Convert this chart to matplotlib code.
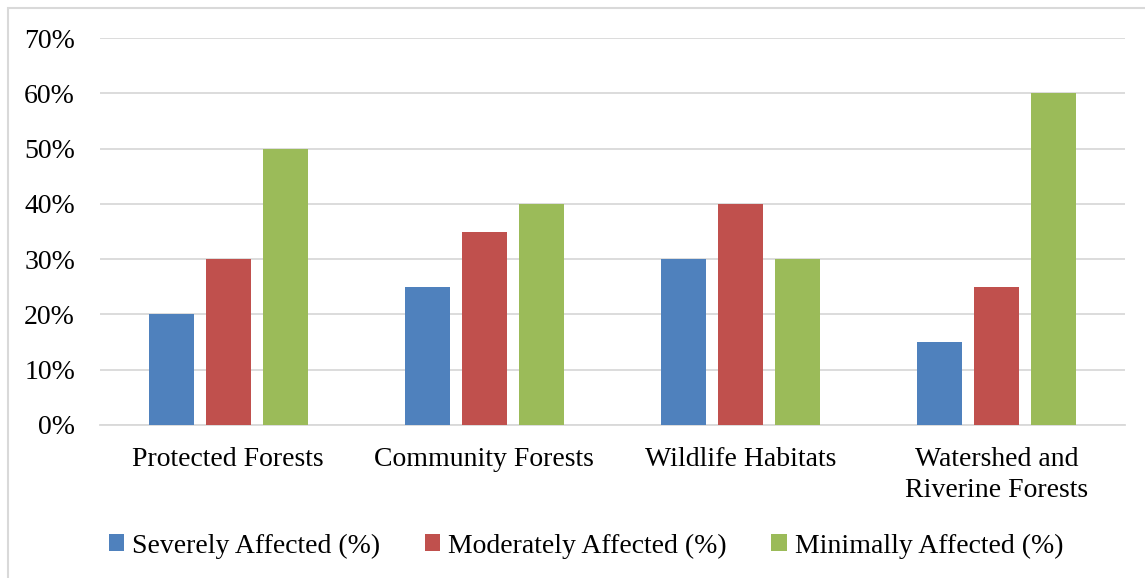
import matplotlib.pyplot as plt
import numpy as np
from matplotlib.patches import Rectangle

plt.rcParams['font.family'] = ['Liberation Serif', 'DejaVu Serif']

# Data
categories = ['Protected Forests', 'Community Forests', 'Wildlife Habitats',
              'Watershed and\nRiverine Forests']
severe = [20, 25, 30, 15]
moderate = [30, 35, 40, 25]
minimal = [50, 40, 30, 60]
series_names = ['Severely Affected (%)', 'Moderately Affected (%)', 'Minimally Affected (%)']
colors = ['#4f81bd', '#c0504d', '#9bbb59']

fig = plt.figure(figsize=(11.45, 5.78), dpi=100)
ax = fig.add_axes([100/1145, 1 - 425/578, 1025/1145, 387/578])

index = np.arange(len(categories))
bar_width = 45 / 256
step = 57 / 256
for i, (vals, name, c) in enumerate(zip([severe, moderate, minimal], series_names, colors)):
    ax.bar(index + (i - 1) * step, vals, bar_width, color=c, label=name, zorder=3)

ax.set_xlim(-0.5, len(categories) - 0.5)
ax.set_ylim(0, 70)
ax.set_yticks(range(0, 71, 10))
ax.set_yticklabels([f'{v}%' for v in range(0, 71, 10)])
ax.set_xticks(index)
ax.set_xticklabels(categories, linespacing=1.3)
ax.yaxis.grid(True, color='#d9d9d9', linewidth=1.3, zorder=0)
for s in ['top', 'right', 'left']:
    ax.spines[s].set_visible(False)
ax.spines['bottom'].set_color('#d9d9d9')
ax.spines['bottom'].set_linewidth(1.3)
ax.tick_params(axis='both', length=0, labelsize=20, colors='black')
ax.tick_params(axis='y', pad=18)
ax.tick_params(axis='x', pad=16)

ax.legend(loc='center', bbox_to_anchor=(586/1145, 1 - 546/578), bbox_transform=fig.transFigure,
          ncol=3, frameon=False, fontsize=20, handlelength=0.55, handleheight=0.55,
          handletextpad=0.3, columnspacing=1.6)

fig.patches.append(Rectangle((8/1145, -0.1), 1.2, (1 - 8/578) + 0.1, transform=fig.transFigure,
                             fill=False, edgecolor='#d9d9d9', linewidth=1.5))

fig.savefig('out.png', dpi=100)
